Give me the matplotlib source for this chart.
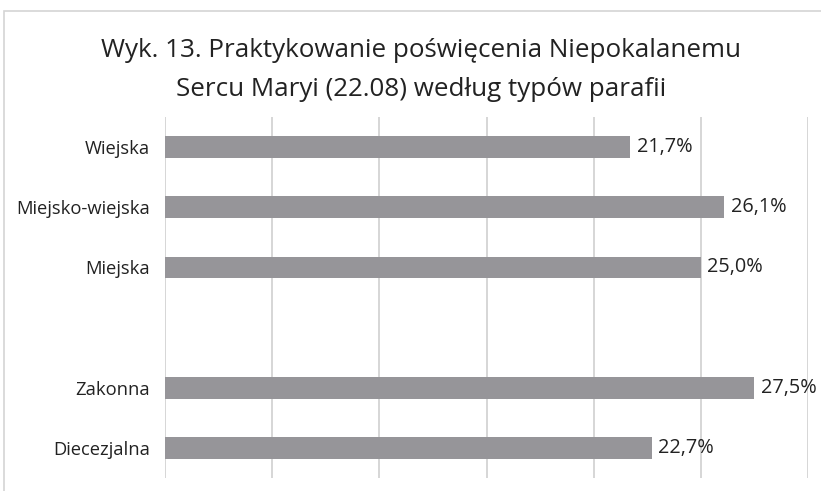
import matplotlib
matplotlib.use("Agg")
import matplotlib.pyplot as plt
from matplotlib.patches import Rectangle

# data
categories = ["Wiejska", "Miejsko-wiejska", "Miejska", "", "Zakonna", "Diecezjalna"]
values = [21.7, 26.1, 25.0, None, 27.5, 22.7]
xticks = [0, 5, 10, 15, 20, 25, 30]

plt.rcParams['font.family'] = ['Open Sans', 'DejaVu Sans']

fig = plt.figure(figsize=(8.21, 4.91), dpi=100)
ax = fig.add_axes([165 / 821, 1 - 478 / 491, (808 - 165) / 821, (478 - 117) / 491])

# outer frame like the original chart box
fig.patches.append(Rectangle((4 / 821, -0.05), 1.1, 1 - 11 / 491 + 0.05,
                             transform=fig.transFigure, fill=False,
                             edgecolor='#d4d4d4', linewidth=1.2))

ypos = list(range(len(categories)))
for y, v in zip(ypos, values):
    if v is None:
        continue
    ax.barh(y, v, height=0.36, color='#969599', zorder=2)
    ax.text(v + 0.3, y, f"{v:.1f}%".replace('.', ','), va='center', ha='left',
            fontsize=14.3, color='#222222')

ax.set_xlim(0, 30)
ax.set_ylim(len(categories) - 0.5, -0.5)
ax.set_xticks(xticks)
ax.set_xticklabels([])
ax.set_yticks(ypos)
ax.set_yticklabels(categories, fontsize=13.2, color='#222222')
ax.tick_params(length=0, pad=11)
ax.grid(axis='x', color='#d0d0d0', linewidth=1.2, zorder=0)
for s in ax.spines.values():
    s.set_visible(False)

fig.text(421 / 821, 1 - 50 / 491, "Wyk. 13. Praktykowanie poświęcenia Niepokalanemu",
         ha='center', va='center', fontsize=18.7, color='#222222')
fig.text(421 / 821, 1 - 90 / 491, "Sercu Maryi (22.08) według typów parafii",
         ha='center', va='center', fontsize=18.7, color='#222222')

fig.savefig("out.png", dpi=100)
